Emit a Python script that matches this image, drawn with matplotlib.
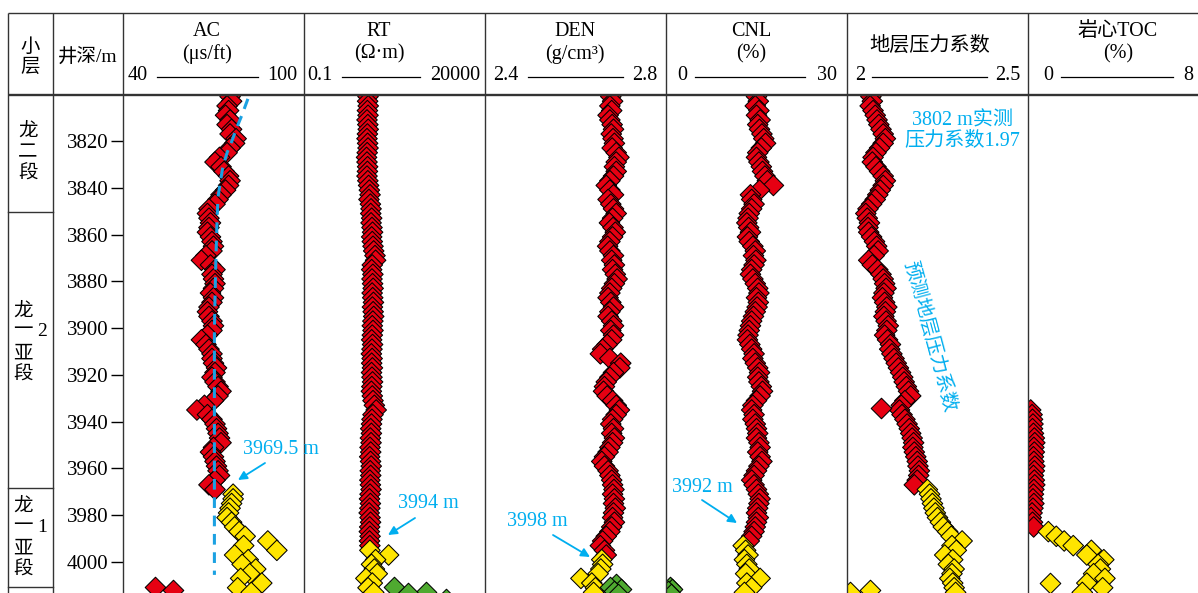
import numpy as np
import matplotlib
matplotlib.use("Agg")
import matplotlib.pyplot as plt

plt.rcParams["font.family"] = ["Liberation Serif", "Noto Sans CJK SC"]

# ---------------- data ----------------
depth = np.arange(3801, 4014, 2)          # sampling depths, m

ac = [75.5, 76.0, 74.5, 75.0, 74.0, 75.5, 74.5, 76.0, 75.5, 77.5,
      77.0, 75.5, 74.5, 72.0, 70.5, 72.5, 73.5, 75.0, 75.5, 75.0,
      74.0, 72.5, 71.5, 70.5, 68.5, 68.0, 68.5, 69.0, 68.5, 68.0,
      69.0, 69.5, 70.0, 69.5, 67.5, 66.0, 69.0, 70.5, 69.5, 70.0,
      70.5, 70.0, 69.0, 70.0, 69.5, 68.5, 68.0, 68.5, 69.5, 70.0,
      69.5, 68.0, 66.0, 67.5, 68.5, 69.5, 69.5, 70.0, 71.0, 70.5,
      69.5, 70.5, 71.5, 72.5, 71.5, 70.0, 67.0, 64.5, 68.0, 69.5,
      70.5, 71.0, 71.5, 72.0, 72.5, 70.0, 69.0, 70.0, 70.5, 71.0,
      71.5, 72.0, 70.5, 68.5, 70.5, 76.5, 76.5, 76.0, 75.5, 75.0,
      74.5, 76.0, 77.0, 78.5, 80.5, 88.0, 80.0, 91.0, 77.0, 81.5,
      79.5, 84.0, 82.0, 79.0, 86.0, 78.0, 82.5]

rt = [7.5, 7.3, 7.6, 7.2, 7.5, 7.0, 7.4, 7.6, 7.2, 7.0,
      7.3, 7.5, 7.1, 6.8, 7.0, 7.3, 7.2, 7.0, 7.4, 7.8,
      8.2, 8.6, 8.0, 8.8, 9.2, 9.0, 9.6, 9.2, 9.8, 10.2,
      9.6, 10.0, 10.5, 11.0, 12.0, 12.5, 10.0, 9.6, 10.4, 9.8,
      10.2, 10.6, 9.9, 10.3, 10.8, 10.1, 10.6, 11.0, 10.4, 10.0,
      10.5, 10.0, 9.6, 10.2, 9.8, 9.4, 9.9, 9.6, 10.1, 9.5,
      9.8, 10.2, 9.7, 9.4, 10.0, 10.5, 11.5, 13.0, 10.5, 9.8,
      9.5, 9.0, 9.4, 8.8, 9.2, 8.6, 9.0, 8.4, 8.9, 9.3,
      8.7, 9.0, 8.5, 8.8, 9.2, 8.6, 8.3, 8.8, 8.5, 8.1,
      8.6, 8.9, 8.4, 8.2, 8.6, 8.3, 8.5, 8.5, 30.0, 12.5,
      9.5, 11.5, 14.0, 6.5, 10.0, 7.5, 11.0]

den = [2.678, 2.682, 2.676, 2.680, 2.672, 2.676, 2.681, 2.684, 2.679, 2.683,
       2.686, 2.681, 2.690, 2.696, 2.690, 2.686, 2.690, 2.684, 2.676, 2.668,
       2.676, 2.684, 2.672, 2.678, 2.684, 2.690, 2.682, 2.675, 2.683, 2.688,
       2.682, 2.676, 2.671, 2.676, 2.684, 2.680, 2.686, 2.682, 2.688, 2.692,
       2.686, 2.680, 2.676, 2.672, 2.678, 2.684, 2.676, 2.672, 2.680, 2.684,
       2.678, 2.684, 2.680, 2.670, 2.660, 2.655, 2.676, 2.700, 2.698, 2.684,
       2.676, 2.668, 2.664, 2.662, 2.670, 2.682, 2.690, 2.697, 2.690, 2.682,
       2.678, 2.684, 2.680, 2.686, 2.682, 2.676, 2.672, 2.664, 2.658, 2.664,
       2.672, 2.676, 2.680, 2.682, 2.685, 2.682, 2.686, 2.684, 2.688, 2.684,
       2.682, 2.686, 2.680, 2.676, 2.668, 2.660, 2.655, 2.664, 2.668, 2.658,
       2.660, 2.656, 2.650, 2.612, 2.636, 2.644, 2.640]

cnl = [15.0, 15.3, 14.8, 15.4, 15.0, 15.6, 15.2, 15.5, 15.9, 16.2,
       16.5, 15.8, 15.2, 15.0, 15.4, 15.8, 16.0, 16.4, 16.8, 17.8,
       15.5, 14.0, 14.2, 14.6, 14.2, 13.8, 13.6, 13.4, 13.7, 14.0,
       13.5, 13.8, 14.4, 14.8, 14.5, 14.9, 14.6, 14.2, 14.0, 14.4,
       14.8, 15.2, 15.4, 15.0, 15.3, 15.1, 14.8, 14.5, 14.2, 14.0,
       13.8, 13.6, 13.5, 13.9, 14.2, 14.6, 14.4, 14.8, 15.2, 15.5,
       15.2, 15.4, 15.8, 16.0, 15.6, 15.0, 14.4, 14.2, 14.6, 14.4,
       14.8, 15.0, 15.2, 15.0, 15.4, 15.6, 15.2, 15.6, 15.9, 15.4,
       15.0, 14.6, 14.2, 14.6, 15.0, 15.3, 15.6, 15.4, 15.2, 15.0,
       15.3, 15.0, 14.8, 14.6, 14.2, 13.8, 12.8, 13.2, 13.6, 13.0,
       13.4, 13.8, 13.2, 15.6, 13.4, 14.2, 13.0]

pcoef = [2.066, 2.070, 2.064, 2.072, 2.078, 2.083, 2.088, 2.094, 2.100, 2.106,
         2.100, 2.090, 2.080, 2.072, 2.070, 2.080, 2.090, 2.100, 2.106, 2.100,
         2.092, 2.085, 2.078, 2.068, 2.058, 2.052, 2.056, 2.062, 2.058, 2.060,
         2.068, 2.076, 2.082, 2.086, 2.075, 2.060, 2.070, 2.085, 2.094, 2.100,
         2.104, 2.108, 2.102, 2.098, 2.104, 2.110, 2.106, 2.102, 2.108, 2.114,
         2.110, 2.104, 2.112, 2.120, 2.118, 2.124, 2.130, 2.136, 2.142, 2.148,
         2.154, 2.158, 2.164, 2.170, 2.176, 2.160, 2.150, 2.145, 2.152, 2.160,
         2.166, 2.172, 2.176, 2.180, 2.184, 2.182, 2.186, 2.190, 2.194, 2.196,
         2.200, 2.198, 2.194, 2.186, 2.222, 2.228, 2.232, 2.236, 2.240, 2.244,
         2.250, 2.258, 2.266, 2.278, 2.288, 2.318, 2.290, 2.302, 2.270, 2.292,
         2.280, 2.296, 2.290, 2.284, 2.292, 2.296, 2.300]
p_iso_depth = [3934.2]
p_iso = [2.094]

toc_depth = np.arange(3935, 4014, 2)
toc = [0.12, 0.18, 0.20, 0.22, 0.20, 0.24, 0.28, 0.30, 0.26, 0.28,
       0.24, 0.26, 0.30, 0.28, 0.24, 0.28, 0.30, 0.26, 0.24, 0.22,
       0.26, 0.22, 0.18, 0.14, 0.20, 0.25, 0.90, 1.25, 1.60, 2.00,
       2.80, 2.60, 3.35, 3.10, 3.20, 2.90, 3.40, 2.60, 3.30, 2.40]

# samples of the next interval at the base of the section
ac_low_depth, ac_low = [4010.5, 4012.0], [50.5, 56.5]
rt_low_depth, rt_low = [4010.7, 4012.8, 4013.3, 4015.8], [43.0, 370.0, 111.0, 1440.0]
den_low_depth, den_low = [4009.5, 4010.5, 4011.5, 4012.5, 4013.5], [2.690, 2.676, 2.700, 2.684, 2.694]
cnl_low_depth, cnl_low = [4010.5, 4011.5, 4012.5, 4013.5], [0.6, 1.0, 0.4, 0.8]
p_low_depth, p_low = [4012.0, 4012.8], [2.064, 2.008]
toc_low_depth, toc_low = [4009.1], [0.97]

# interval tops per curve (red above, yellow below)
ac_split, rt_split, den_split, cnl_split = 3969.5, 3994.0, 3998.0, 3992.0
p_split, toc_split = 3968.0, 3986.0

# normal compaction trend of AC
ac_trend_depth = [3802, 3809, 3814, 3820, 3825, 3831, 3838, 3844, 3853, 3870, 3887, 3901, 3950, 4005.5]
ac_trend = [81.4, 79.4, 77.8, 76.1, 74.5, 73.1, 72.2, 71.5, 71.2, 70.8, 70.5, 70.3, 70.3, 70.3]

measured_depth, measured_coef = 3802, 1.97

layer_bounds = [3850.4, 3968.4, 4010.7]
depth_ticks = list(range(3820, 4001, 20))

# ---------------- layout ----------------
W, H = 1198, 593
TOP, HEAD = 13, 95
Y_REF, D_REF, PX_PER_M = 141.0, 3820.0, 2.339
D_TOP = D_REF - (Y_REF - HEAD) / PX_PER_M
D_BOT = D_REF + (H - Y_REF) / PX_PER_M

RED, YEL, GRN = "#E60012", "#FFE500", "#4FAA30"
BLUE = "#00AEEF"
LINE = "#333333"
FS = 14.5

fig = plt.figure(figsize=(W / 100, H / 100), dpi=100)

col_edges = [8, 53, 123, 304, 485, 666, 847, 1028, 1209]


def track_axes(x0, x1, xlim, log=False):
    ax = fig.add_axes([x0 / W, 0, (x1 - x0) / W, (H - HEAD) / H])
    if log:
        ax.set_xscale("log")
    ax.set_xlim(*xlim)
    ax.set_ylim(D_BOT, D_TOP)
    ax.patch.set_alpha(0)
    for s in ax.spines.values():
        s.set_visible(False)
    ax.set_xticks([])
    ax.set_yticks([])
    ax.minorticks_off()
    return ax


def diamonds(ax, x, y, colors, z=3):
    ax.scatter(x, y, c=colors, marker="D", s=110, edgecolors="black",
               linewidths=0.75, zorder=z)


def split_colors(d, split, upper=RED, lower=YEL):
    return [upper if v < split else lower for v in d]


ax_ac = track_axes(123, 304, (40, 100))
ax_rt = track_axes(304, 485, (0.1, 20000), log=True)
ax_den = track_axes(485, 666, (2.4, 2.8))
ax_cnl = track_axes(666, 847, (0, 30))
ax_p = track_axes(847, 1028, (2.0, 2.5))
ax_toc = track_axes(1028, 1209, (0, 8))

diamonds(ax_ac, ac, depth, split_colors(depth, ac_split))
diamonds(ax_ac, ac_low, ac_low_depth, RED)
ax_ac.plot(ac_trend, ac_trend_depth, color="#1BA1E2", lw=2.2,
           linestyle=(0, (3.5, 2.5)), zorder=5)

diamonds(ax_rt, rt, depth, split_colors(depth, rt_split))
diamonds(ax_rt, rt_low, rt_low_depth, GRN)

diamonds(ax_den, den, depth, split_colors(depth, den_split))
diamonds(ax_den, den_low, den_low_depth, GRN)

diamonds(ax_cnl, cnl, depth, split_colors(depth, cnl_split))
diamonds(ax_cnl, cnl_low, cnl_low_depth, GRN)

diamonds(ax_p, pcoef, depth, split_colors(depth, p_split))
diamonds(ax_p, p_iso, p_iso_depth, RED)
diamonds(ax_p, p_low, p_low_depth, YEL)

diamonds(ax_toc, toc, toc_depth, split_colors(toc_depth, toc_split))
diamonds(ax_toc, toc_low, toc_low_depth, YEL)

# depth scale on the left side of the AC track
ax_ac.set_yticks(depth_ticks)
ax_ac.set_yticklabels([str(t) for t in depth_ticks])
ax_ac.tick_params(axis="y", direction="out", length=9, width=1.0,
                  pad=1.5, labelsize=15, color="black")

# ---------------- frame and header ----------------
frame = fig.add_axes([0, 0, 1, 1], zorder=10)
frame.set_xlim(0, W)
frame.set_ylim(H, 0)
frame.axis("off")
frame.patch.set_alpha(0)


def ypx(d):
    return Y_REF + (d - D_REF) * PX_PER_M


frame.plot([8, W], [TOP, TOP], color=LINE, lw=1.0, solid_capstyle="butt")
frame.plot([8, W], [HEAD, HEAD], color=LINE, lw=1.7, solid_capstyle="butt")
for x in col_edges[:-1]:
    frame.plot([x, x], [TOP, H], color=LINE, lw=1.0, solid_capstyle="butt")
for d in layer_bounds:
    frame.plot([8, 53], [ypx(d)] * 2, color=LINE, lw=1.0)

frame.text(30, 47, "小", fontsize=14, ha="center", va="center")
frame.text(30, 67, "层", fontsize=14, ha="center", va="center")
frame.text(88, 57, "井深/m", fontsize=14, ha="center", va="center")

titles = ["AC", "RT", "DEN", "CNL", "地层压力系数", "岩心TOC"]
units = ["(μs/ft)", "(Ω·m)", "(g/cm³)", "(%)", "", "(%)"]
scale_lo = ["40", "0.1", "2.4", "0", "2", "0"]
scale_hi = ["100", "20000", "2.8", "30", "2.5", "8"]
title_x = [207, 379, 575, 751, 930, 1118]
lo_x = [128, 307, 493, 677, 855, 1043]
hi_x = [297, 480, 657, 837, 1020, 1193]
rule_x = [(157, 258), (342, 420), (528, 623), (695, 805), (872, 987), (1061, 1173)]

for t, u, lo, hi, tx, lx, hx, (r0, r1) in zip(titles, units, scale_lo, scale_hi,
                                               title_x, lo_x, hi_x, rule_x):
    if u:
        frame.text(tx, 32, t, fontsize=FS, ha="center", va="center")
        frame.text(tx, 54, u, fontsize=FS, ha="center", va="center")
    else:
        frame.text(tx, 46, t, fontsize=FS, ha="center", va="center")
    frame.text(lx, 76, lo, fontsize=FS, ha="left", va="center")
    frame.text(hx, 76, hi, fontsize=FS, ha="right", va="center")
    frame.plot([r0, r1], [77, 77], color="black", lw=0.9)

# formation names
layer_chars = [
    [("龙", 28, 131), ("二", 28, 153), ("段", 28, 174)],
    [("龙", 23, 311), ("一", 23, 331), ("2", 42, 331), ("亚", 23, 354), ("段", 23, 375)],
    [("龙", 23, 506), ("一", 23, 527), ("1", 42, 527), ("亚", 23, 549), ("段", 23, 570)],
]
for group in layer_chars:
    for ch, x, y in group:
        frame.text(x, y, ch, fontsize=14, ha="center", va="center")

# annotations
arrow = dict(arrowstyle="-|>", color=BLUE, lw=1.3, mutation_scale=13,
             shrinkA=0, shrinkB=0)
notes = [
    (f"{ac_split:g} m", (281, 449), (265, 463), (238, 480)),
    (f"{rt_split:g} m", (428, 504), (415, 518), (388, 535)),
    (f"{den_split:g} m", (537, 522), (553, 535), (590, 557)),
    (f"{cnl_split:g} m", (702, 487), (702, 500), (737, 523)),
]
for label, (tx, ty), tail, head in notes:
    frame.text(tx, ty, label, fontsize=FS, color=BLUE, ha="center", va="center")
    frame.annotate("", xy=head, xytext=tail, arrowprops=arrow)

frame.text(962, 121, f"{measured_depth} m实测", fontsize=FS, color=BLUE,
           ha="center", va="center")
frame.text(962, 141, f"压力系数{measured_coef:.2f}", fontsize=FS, color=BLUE,
           ha="center", va="center")
frame.text(930, 336, "预测地层压力系数", fontsize=14, color=BLUE,
           rotation=-75, ha="center", va="center", rotation_mode="anchor")

fig.savefig("out.png", dpi=100)
